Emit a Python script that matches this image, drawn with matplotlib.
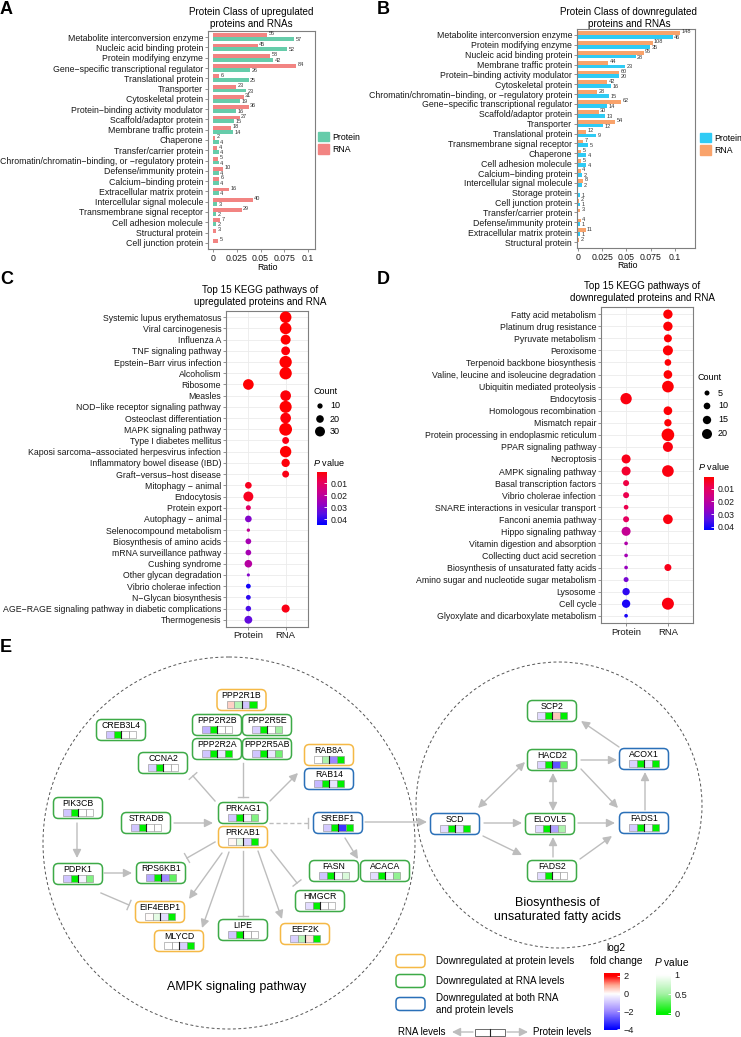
import numpy as np
import matplotlib.pyplot as plt
from matplotlib.colors import LinearSegmentedColormap, Normalize
from matplotlib.patches import FancyBboxPatch, Rectangle, Circle, Patch

plt.rcParams['font.family'] = ['Liberation Sans', 'DejaVu Sans']
plt.rcParams['mathtext.fontset'] = 'custom'
plt.rcParams['mathtext.it'] = 'Liberation Sans:italic'
plt.rcParams['mathtext.rm'] = 'Liberation Sans'

M = '\u2212'

# ---------------- data: panel A / B (protein class counts) ----------------
up_classes = ["Metabolite interconversion enzyme", "Nucleic acid binding protein",
              "Protein modifying enzyme", "Gene" + M + "specific transcriptional regulator",
              "Translational protein", "Transporter", "Cytoskeletal protein",
              "Protein" + M + "binding activity modulator", "Scaffold/adaptor protein",
              "Membrane traffic protein", "Chaperone", "Transfer/carrier protein",
              "Chromatin/chromatin" + M + "binding, or " + M + "regulatory protein",
              "Defense/immunity protein", "Calcium" + M + "binding protein",
              "Extracellular matrix protein", "Intercellular signal molecule",
              "Transmembrane signal receptor", "Cell adhesion molecule",
              "Structural protein", "Cell junction protein"]
up_protein = [57, 52, 42, 26, 25, 23, 19, 16, 15, 14, 4, 4, 4, 4, 4, 4, 3, 2, 2, 0, 0]
up_rna = [55, 45, 58, 84, 6, 23, 31, 36, 27, 18, 2, 4, 5, 10, 6, 16, 40, 29, 7, 3, 5]
up_protein_total = 665
up_rna_total = 960

down_classes = ["Metabolite interconversion enzyme", "Protein modifying enzyme",
                "Nucleic acid binding protein", "Membrane traffic protein",
                "Protein" + M + "binding activity modulator", "Cytoskeletal protein",
                "Chromatin/chromatin" + M + "binding, or " + M + "regulatory protein",
                "Gene" + M + "specific transcriptional regulator", "Scaffold/adaptor protein",
                "Transporter", "Translational protein", "Transmembrane signal receptor",
                "Chaperone", "Cell adhesion molecule", "Calcium" + M + "binding protein",
                "Intercellular signal molecule", "Storage protein", "Cell junction protein",
                "Transfer/carrier protein", "Defense/immunity protein",
                "Extracellular matrix protein", "Structural protein"]
down_protein = [46, 35, 28, 23, 20, 16, 15, 14, 13, 12, 9, 5, 4, 4, 2, 2, 1, 1, 0, 1, 1, 0]
down_rna = [148, 108, 95, 44, 60, 42, 28, 62, 30, 54, 12, 7, 5, 5, 4, 8, 0, 2, 3, 4, 11, 2]
down_protein_total = 470
down_rna_total = 1400

# ---------------- data: panel C / D (KEGG dot plots) ----------------
up_paths = ["Systemic lupus erythematosus", "Viral carcinogenesis", "Influenza A",
            "TNF signaling pathway", "Epstein" + M + "Barr virus infection", "Alcoholism",
            "Ribosome", "Measles", "NOD" + M + "like receptor signaling pathway",
            "Osteoclast differentiation", "MAPK signaling pathway", "Type I diabetes mellitus",
            "Kaposi sarcoma" + M + "associated herpesvirus infection",
            "Inflammatory bowel disease (IBD)", "Graft" + M + "versus" + M + "host disease",
            "Mitophagy " + M + " animal", "Endocytosis", "Protein export",
            "Autophagy " + M + " animal", "Selenocompound metabolism",
            "Biosynthesis of amino acids", "mRNA surveillance pathway", "Cushing syndrome",
            "Other glycan degradation", "Vibrio cholerae infection",
            "N" + M + "Glycan biosynthesis",
            "AGE" + M + "RAGE signaling pathway in diabetic complications", "Thermogenesis"]
up_prot_count = [None] * 6 + [33] + [None] * 8 + [16, 30, 9, 16, 2, 12, 12, 20, 1, 8, 8, 11, 21]
up_prot_p = [None] * 6 + [0.001] + [None] * 8 + [0.004, 0.004, 0.012, 0.030, 0.020, 0.025,
                                                 0.025, 0.022, 0.030, 0.043, 0.040, 0.037, 0.034]
up_rna_count = [37, 37, 30, 25, 40, 40, None, 33, 39, 33, 42, 17, 36, 23, 17] + [None] * 11 + [22, None]
up_rna_p = [0.001, 0.001, 0.001, 0.002, 0.001, 0.001, None, 0.002, 0.001, 0.002, 0.001,
            0.003, 0.001, 0.002, 0.003] + [None] * 11 + [0.003, None]

down_paths = ["Fatty acid metabolism", "Platinum drug resistance", "Pyruvate metabolism",
              "Peroxisome", "Terpenoid backbone biosynthesis",
              "Valine, leucine and isoleucine degradation", "Ubiquitin mediated proteolysis",
              "Endocytosis", "Homologous recombination", "Mismatch repair",
              "Protein processing in endoplasmic reticulum", "PPAR signaling pathway",
              "Necroptosis", "AMPK signaling pathway", "Basal transcription factors",
              "Vibrio cholerae infection", "SNARE interactions in vesicular transport",
              "Fanconi anemia pathway", "Hippo signaling pathway",
              "Vitamin digestion and absorption", "Collecting duct acid secretion",
              "Biosynthesis of unsaturated fatty acids",
              "Amino sugar and nucleotide sugar metabolism", "Lysosome", "Cell cycle",
              "Glyoxylate and dicarboxylate metabolism"]
down_prot_count = [None] * 7 + [24] + [None] * 4 + [17, 17, 8, 8, 4, 8, 17, 1, 1, 1, 5, 12, 15, 1]
down_prot_p = [None] * 7 + [0.002] + [None] * 4 + [0.003, 0.005, 0.007, 0.008, 0.008, 0.010,
                                                   0.018, 0.022, 0.024, 0.026, 0.030, 0.038,
                                                   0.040, 0.040]
down_rna_count = [18, 18, 14, 20, 10, 16, 25, None, 16, 12, 28, 20, None, 25, None, None,
                  None, 19, None, None, None, 11, None, None, 26, None]
down_rna_p = [0.001, 0.001, 0.001, 0.001, 0.001, 0.001, 0.001, None, 0.001, 0.001, 0.001,
              0.002, None, 0.002, None, None, None, 0.002, None, None, None, 0.003, None,
              None, 0.002, None]

# ---------------- data: panel E (pathway nodes) ----------------
# kind: 'prot' = down at protein level, 'rna' = down at RNA level, 'both'
node_names = ["PPP2R1B", "PPP2R2B", "PPP2R5E", "PPP2R2A", "PPP2R5AB", "CREB3L4", "CCNA2",
              "RAB8A", "RAB14", "PIK3CB", "STRADB", "PRKAG1", "PRKAB1", "SREBF1", "PDPK1",
              "RPS6KB1", "FASN", "ACACA", "HMGCR", "EIF4EBP1", "MLYCD", "LIPE", "EEF2K",
              "SCP2", "HACD2", "ACOX1", "SCD", "ELOVL5", "FADS1", "FADS2"]
node_kind = ["prot", "rna", "rna", "rna", "rna", "rna", "rna", "prot", "both", "rna", "rna",
             "rna", "prot", "both", "rna", "rna", "rna", "rna", "rna", "prot", "prot", "rna",
             "prot", "rna", "rna", "both", "both", "rna", "both", "rna"]
node_rna_fc = [0.5, -1.3, -0.8, -1.0, -1.0, -1.0, -0.8, 0.0, -1.2, -1.0, -1.0, -1.0, 0.1,
               -0.9, -1.0, -1.5, -1.0, -0.6, -0.6, 0.05, None, -1.0, -0.8, -0.6, -0.7, -0.8,
               -0.6, -0.6, -0.9, -0.6]
node_rna_p = [0.6, 0.0, 0.0, 0.0, 0.0, 0.0, 0.0, 0.55, 0.0, 0.0, 0.0, 0.0, 0.85, 0.0, 0.0,
              0.0, 0.0, 0.0, 0.0, 0.85, None, 0.0, 0.6, 0.0, 0.0, 0.0, 0.0, 0.0, 0.0, 0.0]
node_prot_fc = [-1.0, None, 0.0, -0.4, -0.4, None, None, -2.0, -0.5, None, None, -0.2, -0.8,
                -3.2, -0.2, -2.0, -0.1, -0.2, None, -0.6, -0.8, None, 0.3, 0.6, -2.8, -0.5,
                -0.6, -1.6, -0.3, None]
node_prot_p = [0.0, None, 0.5, 0.0, 0.35, None, None, 0.0, 0.0, None, None, 0.4, 0.0, 0.0,
               0.4, 0.3, 0.8, 0.45, None, 0.0, 0.0, None, 0.0, 0.0, 0.3, 0.0, 0.0, 0.55, 0.0,
               None]

# layout of panel E (pixel positions)
node_xy = {"PPP2R1B": (241.5, 700), "PPP2R2B": (217, 725), "PPP2R5E": (267, 725),
           "PPP2R2A": (217, 749), "PPP2R5AB": (267, 749), "CREB3L4": (121, 730),
           "CCNA2": (163, 763), "RAB8A": (329, 755), "RAB14": (329, 779),
           "PIK3CB": (78, 808), "STRADB": (146, 823), "PRKAG1": (243, 813),
           "PRKAB1": (243, 837), "SREBF1": (338, 823), "PDPK1": (78, 874),
           "RPS6KB1": (161, 873), "FASN": (334, 871), "ACACA": (385, 871),
           "HMGCR": (320, 901), "EIF4EBP1": (160, 912), "MLYCD": (179, 941),
           "LIPE": (243, 930), "EEF2K": (305, 934), "SCP2": (552, 711),
           "HACD2": (552, 760), "ACOX1": (644, 759), "SCD": (455, 824),
           "ELOVL5": (550, 824), "FADS1": (644, 823), "FADS2": (552, 871)}
edges = [((215, 801), (193, 776), 'inh'), ((243, 763), (243, 797), 'inh'),
         ((270, 801), (298, 773), 'act'), ((174, 823), (213, 823), 'act'),
         ((269, 823), (308, 823), 'dinh'), ((365, 822), (427, 822), 'act'),
         ((345, 838), (358, 859), 'act'), ((77, 823), (77, 858), 'act'),
         ((104, 873), (132, 873), 'act'), ((215, 842), (187, 858), 'inh'),
         ((101, 893), (129, 905), 'inh'), ((222, 853), (189, 899), 'act'),
         ((229, 852), (202, 928), 'act'), ((243, 851), (243, 916), 'inh'),
         ((258, 851), (282, 919), 'act'), ((271, 850), (297, 883), 'inh'),
         ((619, 747), (581, 721), 'act'), ((581, 760), (617, 760), 'act'),
         ((478, 808), (525, 762), 'both'), ((553, 773), (553, 811), 'both'),
         ((581, 769), (618, 808), 'act'), ((484, 823), (522, 823), 'act'),
         ((578, 823), (615, 823), 'act'), ((645, 810), (645, 772), 'act'),
         ((483, 836), (522, 855), 'act'), ((553, 857), (553, 837), 'act'),
         ((580, 859), (612, 836), 'act')]

# ---------------- figure ----------------
W, H = 741, 1037
fig = plt.figure(figsize=(W / 100, H / 100), dpi=100)


def px_axes(x0, y0, x1, y1):
    return fig.add_axes([x0 / W, 1 - y1 / H, (x1 - x0) / W, (y1 - y0) / H])


ov = fig.add_axes([0, 0, 1, 1])
ov.set_xlim(0, W)
ov.set_ylim(H, 0)
ov.axis('off')

border = '#7F7F7F'
txt = '#1A1A1A'


def style_frame(ax):
    for s in ax.spines.values():
        s.set_color(border)
        s.set_linewidth(0.8)
    ax.tick_params(length=2, width=0.6, color=border, pad=1.5, labelcolor=txt)


def class_panel(rect, classes, prot, rna, prot_total, rna_total, c_prot, c_rna, xlim):
    ax = px_axes(*rect)
    y = np.arange(len(classes))
    prot = np.array(prot, float)
    rna = np.array(rna, float)
    h = 0.38
    ax.barh(y - h / 2, rna / rna_total, height=h, color=c_rna)
    ax.barh(y + h / 2, prot / prot_total, height=h, color=c_prot)
    for i in y:
        if rna[i] > 0:
            ax.text(rna[i] / rna_total + 0.0015, i - h / 2 - 0.12, '%d' % rna[i],
                    fontsize=4, va='center', color='#333333')
        if prot[i] > 0:
            ax.text(prot[i] / prot_total + 0.0015, i + h / 2 + 0.05, '%d' % prot[i],
                    fontsize=4, va='center', color='#333333')
    ax.set_ylim(len(classes) - 0.4, -0.6)
    ax.set_xlim(*xlim)
    ax.set_yticks(y)
    ax.set_yticklabels(classes, fontsize=6.3)
    ax.set_xticks([0, 0.025, 0.05, 0.075, 0.1])
    ax.set_xticklabels(['0', '0.025', '0.05', '0.075', '0.1'], fontsize=6.3)
    style_frame(ax)
    return ax


def class_legend(ax, c_prot, c_rna, x, y):
    ax.legend(handles=[Patch(color=c_prot, label='Protein'), Patch(color=c_rna, label='RNA')],
              loc='center left', bbox_to_anchor=(x / W, 1 - y / H),
              bbox_transform=fig.transFigure, frameon=False, fontsize=6.3,
              handlelength=1.3, handleheight=1.25, borderpad=0, borderaxespad=0,
              handletextpad=0.35, labelspacing=0.3)


# Panel A
a_prot, a_rna = '#66CCAA', '#F28482'
axA = class_panel((208, 31, 315, 249), up_classes, up_protein, up_rna,
                  up_protein_total, up_rna_total, a_prot, a_rna, (-0.0053, 0.1074))
class_legend(axA, a_prot, a_rna, 318, 143)
ov.text(251, 18, 'Protein Class of upregulated\nproteins and RNAs', ha='center', va='center',
        fontsize=7.1, linespacing=1.15)
ov.text(268, 267, 'Ratio', ha='center', va='center', fontsize=6.3)

# Panel B
b_prot, b_rna = '#2FCBF5', '#F9A36B'
axB = class_panel((577, 29, 695, 248), down_classes, down_protein, down_rna,
                  down_protein_total, down_rna_total, b_prot, b_rna, (-0.001, 0.121))
class_legend(axB, b_prot, b_rna, 700, 144)
ov.text(629, 18, 'Protein Class of downregulated\nproteins and RNAs', ha='center',
        va='center', fontsize=7.1, linespacing=1.15)
ov.text(628, 266, 'Ratio', ha='center', va='center', fontsize=6.3)

# ---------------- KEGG dot panels ----------------
p_cmap = LinearSegmentedColormap.from_list(
    'pv_rb', ['#FF0000', '#EA0058', '#C8008E', '#9A00BE', '#5410E6', '#0000FF'])


def c_size(n):
    return ((2.9 + 0.235 * n) * 0.72) ** 2


def d_size(n):
    return ((3.33 + 0.333 * n) * 0.72) ** 2


def kegg_panel(rect, paths, prot_n, prot_p, rna_n, rna_p, size_fn, pnorm):
    ax = px_axes(*rect)
    n = len(paths)
    for col, counts, pvals in ((1, prot_n, prot_p), (2, rna_n, rna_p)):
        idx = [i for i, c in enumerate(counts) if c is not None]
        ax.scatter([col] * len(idx), idx, s=[size_fn(counts[i]) for i in idx],
                   c=[pvals[i] for i in idx], cmap=p_cmap, norm=pnorm,
                   edgecolors='none', zorder=3)
    ax.set_xlim(0.4, 2.6)
    ax.set_ylim(n - 0.4, -0.6)
    ax.set_yticks(range(n))
    ax.set_yticklabels(paths, fontsize=6.3)
    ax.set_xticks([1, 2])
    ax.set_xticklabels(['Protein', 'RNA'], fontsize=6.8)
    ax.grid(True, color='#EBEBEB', lw=0.6)
    ax.set_axisbelow(True)
    style_frame(ax)
    return ax


def gradient_bar(rect, cmap, norm, top_val, bottom_val, ticks, labels, fs=6.3):
    cax = px_axes(*rect)
    grad = np.linspace(top_val, bottom_val, 256)[:, None]
    cax.imshow(grad, aspect='auto', cmap=cmap, norm=norm,
               extent=[0, 1, bottom_val, top_val])
    cax.set_xticks([])
    cax.yaxis.tick_right()
    cax.set_yticks(ticks)
    cax.set_yticklabels(labels, fontsize=fs)
    cax.tick_params(axis='y', direction='in', length=2, width=0.6, color='white',
                    pad=2.5, labelcolor=txt)
    for s in cax.spines.values():
        s.set_visible(False)
    return cax


# Panel C
c_norm = Normalize(0.0008, 0.045)
kegg_panel((226, 310.5, 308, 626.5), up_paths, up_prot_count, up_prot_p,
           up_rna_count, up_rna_p, c_size, c_norm)
ov.text(260, 296, 'Top 15 KEGG pathways of\nupregulated proteins and RNA', ha='center',
        va='center', fontsize=7.1, linespacing=1.15)
ov.text(313, 392, 'Count', ha='left', va='center', fontsize=6.5)
for cnt, yy in zip([10, 20, 30], [406, 419, 431.5]):
    ov.scatter([320], [yy], s=c_size(cnt), color='black', edgecolors='none')
    ov.text(330, yy, str(cnt), ha='left', va='center', fontsize=6.5)
ov.text(313, 463, '$P$ value', ha='left', va='center', fontsize=6.5)
gradient_bar((317, 472, 327, 525), p_cmap, c_norm, 0.0008, 0.045,
             [0.01, 0.02, 0.03, 0.04], ['0.01', '0.02', '0.03', '0.04'])

# Panel D
d_norm = Normalize(0.0005, 0.0427)
kegg_panel((601, 307, 693, 623), down_paths, down_prot_count, down_prot_p,
           down_rna_count, down_rna_p, d_size, d_norm)
ov.text(642, 292, 'Top 15 KEGG pathways of\ndownregulated proteins and RNA', ha='center',
        va='center', fontsize=7.1, linespacing=1.15)
ov.text(698, 377, 'Count', ha='left', va='center', fontsize=6.5)
for cnt, yy in zip([5, 10, 15, 20], [393, 406, 420, 434]):
    ov.scatter([707], [yy], s=d_size(cnt), color='black', edgecolors='none')
    ov.text(718, yy, str(cnt), ha='left', va='center', fontsize=6.5)
ov.text(698, 467, '$P$ value', ha='left', va='center', fontsize=6.5)
gradient_bar((704, 477, 714, 530), p_cmap, d_norm, 0.0005, 0.0427,
             [0.01, 0.02, 0.03, 0.04], ['0.01', '0.02', '0.03', '0.04'])

# ---------------- Panel E ----------------
fc_cmap = LinearSegmentedColormap.from_list(
    'fc', [(0, '#0000FF'), (0.333, '#9C88FF'), (0.5, '#CFC4FF'), (0.667, '#FFFFFF'),
           (0.833, '#FFA58F'), (1, '#FF0000')])
fc_norm = Normalize(-4, 2)
pv_cmap = LinearSegmentedColormap.from_list('pv', ['#00F000', '#A3F2A3', '#FFFFFF'])
pv_norm = Normalize(0, 1)
kind_color = {'prot': '#F5B946', 'rna': '#3DAA47', 'both': '#2A70B8'}
edge_gray = '#BDBDBD'

ov.add_patch(Circle((229, 843), 186, fill=False, ec='#555555', lw=0.7, ls=(0, (3, 2.5))))
ov.add_patch(Circle((559, 805), 143, fill=False, ec='#555555', lw=0.7, ls=(0, (3, 2.5))))
ov.text(237, 987, 'AMPK signaling pathway', ha='center', va='center', fontsize=9)
ov.text(557, 903, 'Biosynthesis of', ha='center', va='center', fontsize=9)
ov.text(557, 917, 'unsaturated fatty acids', ha='center', va='center', fontsize=9)


def arrow(p0, p1, style='-|>'):
    ov.annotate('', xy=p1, xytext=p0,
                arrowprops=dict(arrowstyle=style + ',head_length=0.5,head_width=0.25',
                                color=edge_gray, lw=1.0, shrinkA=0, shrinkB=0,
                                mutation_scale=10))


def inhibit(p0, p1, dashed=False):
    ov.plot([p0[0], p1[0]], [p0[1], p1[1]], color=edge_gray, lw=1.0,
            ls=(0, (3, 2)) if dashed else '-')
    d = np.subtract(p1, p0, dtype=float)
    d /= np.hypot(*d)
    nv = np.array([-d[1], d[0]]) * 5
    ov.plot([p1[0] - nv[0], p1[0] + nv[0]], [p1[1] - nv[1], p1[1] + nv[1]],
            color=edge_gray, lw=1.0)


for p0, p1, kind in edges:
    if kind == 'act':
        arrow(p0, p1)
    elif kind == 'both':
        arrow(p0, p1, '<|-|>')
    else:
        inhibit(p0, p1, dashed=(kind == 'dinh'))


def cell_color(v, cmap, norm):
    return 'white' if v is None else cmap(norm(v))


def value_strip(cx, cy, vals, cw=7.5, ch=6.5):
    x0 = cx - 2 * cw
    cmaps = [(fc_cmap, fc_norm), (pv_cmap, pv_norm)] * 2
    for k, (v, (cm, nm)) in enumerate(zip(vals, cmaps)):
        ov.add_patch(Rectangle((x0 + k * cw, cy), cw, ch, fc=cell_color(v, cm, nm),
                               ec='#8C8C8C', lw=0.4))
    ov.plot([cx, cx], [cy, cy + ch], color='#222222', lw=0.8)


bw, bh, rad = 49, 21, 5
for i, name in enumerate(node_names):
    cx, cy = node_xy[name]
    ov.add_patch(FancyBboxPatch((cx - bw / 2 + rad, cy - bh / 2 + rad), bw - 2 * rad,
                                bh - 2 * rad, boxstyle='round,pad=%d' % rad,
                                fc='white', ec=kind_color[node_kind[i]], lw=1.1))
    ov.text(cx, cy - 4.5, name, ha='center', va='center', fontsize=6.3)
    value_strip(cx, cy + 1, [node_rna_fc[i], node_rna_p[i], node_prot_fc[i], node_prot_p[i]])

# legend of panel E
leg_items = [('prot', 961, 'Downregulated at protein levels'),
             ('rna', 981, 'Downregulated at RNA levels'),
             ('both', 1004, 'Downregulated at both RNA\nand protein levels')]
for kind, yy, label in leg_items:
    ov.add_patch(FancyBboxPatch((396 + 4, yy - 6.5 + 4), 29 - 8, 13 - 8,
                                boxstyle='round,pad=4', fc='white', ec=kind_color[kind],
                                lw=1.1))
    ov.text(436, yy, label, ha='left', va='center', fontsize=7.1, linespacing=1.2)

ov.text(616, 948, 'log2', ha='center', va='center', fontsize=7.3)
ov.text(616, 961, 'fold change', ha='center', va='center', fontsize=7.3)
ov.text(672, 962, '$P$ value', ha='center', va='center', fontsize=7.3)
gradient_bar((604, 973, 620, 1030), fc_cmap, fc_norm, 2.33, -4.1, [2, 0, -2, -4],
             ['2', '0', M + '2', M + '4'], fs=6.6)
gradient_bar((656, 973, 671, 1015), pv_cmap, pv_norm, 1.05, -0.05, [1, 0.5, 0],
             ['1', '0.5', '0'], fs=6.6)

ov.text(446, 1032, 'RNA levels', ha='right', va='center', fontsize=7)
arrow((473, 1032), (452, 1032))
ov.add_patch(Rectangle((475, 1028.5), 30, 7, fc='white', ec='#555555', lw=0.6))
ov.plot([490, 490], [1028.5, 1035.5], color='#222222', lw=0.8)
arrow((507, 1032), (528, 1032))
ov.text(533, 1032, 'Protein levels', ha='left', va='center', fontsize=7)

# panel letters
for letter, x, y in [('A', 0, 9), ('B', 377, 9), ('C', 0, 279), ('D', 377, 279), ('E', 0, 647)]:
    ov.text(x, y, letter, ha='left', va='center', fontsize=13, fontweight='bold')

fig.savefig('out.png', dpi=100)
